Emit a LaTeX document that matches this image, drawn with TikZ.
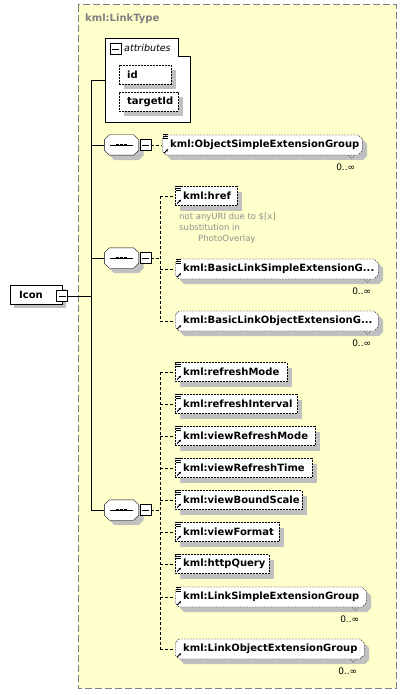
\documentclass[tikz,border=0pt]{standalone}
\usepackage{fontspec}
\setmainfont{DejaVu Sans}
\usetikzlibrary{calc,positioning,shadows,shapes.misc,arrows.meta}
\definecolor{bgyellow}{HTML}{FFFFCC}
\definecolor{framegray}{HTML}{808080}
\definecolor{shadowgray}{HTML}{C0C0C0}
\definecolor{notegray}{HTML}{909090}
\newcommand\elide{...}
% octagon of a sequence compositor, shifted by #2
\newcommand\octpath[2]{($(#1.north west)+(5,0)+(#2)$) -- ($(#1.north east)+(-5,0)+(#2)$)
  -- ($(#1.north east)+(0,5)+(#2)$) -- ($(#1.south east)+(0,-5)+(#2)$)
  -- ($(#1.south east)+(-5,0)+(#2)$) -- ($(#1.south west)+(5,0)+(#2)$)
  -- ($(#1.south west)+(0,-5)+(#2)$) -- ($(#1.north west)+(0,5)+(#2)$) -- cycle}
\tikzset{
  typeframe/.style={draw=framegray,fill=bgyellow,line width=1pt,dash pattern=on 7pt off 3pt},
  typetitle/.style={anchor=west,text=framegray,inner sep=0pt,font=\bfseries\fontsize{10}{12}\selectfont},
  boxshadow/.style={drop shadow={shadow xshift=5pt,shadow yshift=-5pt,fill=shadowgray,opacity=1}},
  elem/.style={draw,fill=white,dash pattern=on 2pt off 1pt,anchor=west,minimum height=19pt,
    inner xsep=0pt,inner ysep=0pt,font=\bfseries\fontsize{10}{12}\selectfont,boxshadow},
  multi/.style={elem,chamfered rectangle,chamfered rectangle xsep=2pt,chamfered rectangle ysep=2pt,minimum height=20pt},
  rootbox/.style={draw,fill=white,anchor=west,minimum height=19pt,inner sep=0pt,font=\bfseries\fontsize{10}{12}\selectfont,
    drop shadow={shadow xshift=4pt,shadow yshift=-4pt,fill=shadowgray,opacity=1}},
  minusbox/.style={draw,fill=white,minimum size=11pt,inner sep=0pt,
    path picture={\draw ([xshift=2pt]path picture bounding box.west) -- ([xshift=-2pt]path picture bounding box.east);}},
  seqbox/.style={minimum width=34pt,minimum height=20pt,inner sep=0pt},
  branch/.style={dash pattern=on 3pt off 2pt},
  mult/.style={inner sep=0pt,font=\fontsize{9}{10}\selectfont},
  note/.style={anchor=north west,align=left,inner sep=0pt,text=notegray,font=\fontsize{8.5}{11}\selectfont},
}
\begin{document}
\begin{tikzpicture}[x=1pt,y=-1pt]
  \useasboundingbox (0,0) rectangle (407,695);
  % complex type frame
  \draw[typeframe] (78,5) rectangle (396,688);
  \node[typetitle] (ltype) at (85,19) {kml:LinkType};

  % root element
  \node[rootbox] (icon) at (10,294.5) {\makebox[52pt][l]{\hspace*{9pt}Icon}};
  \node[minusbox] (iconm) at (62,296) {};

  % attributes
  \draw[fill=white] (105,38) -- (178,38) -- (178,56) -- (190,56) -- (190,122) -- (105,122) -- cycle;
  \node[minusbox] (attrm) at (115.5,49) {};
  \node[anchor=west,inner sep=0pt,font=\itshape\fontsize{9.5}{11}\selectfont] (attrt) at (124,48) {attributes};
  \node[elem,minimum width=52pt] (id) at (119,74.5) {\makebox[46pt][l]{\hspace*{5pt}id}};
  \node[elem,minimum width=59pt] (tid) at (119,101.5) {\makebox[53pt][l]{\hspace*{5pt}targetId}};

  % trunk
  \coordinate (t0) at (91,80);
  \coordinate (attrw) at (105,80);
  \coordinate (tm) at (91,296);
  \draw (t0) -- (attrw);
  \draw (iconm.east) -- (tm);
  \foreach \s/\yy in {1/145,2/258,3/510}{%
    \coordinate (t\s) at (91,\yy);
    \node[seqbox] (seq\s) at (121.5,\yy) {};
    \fill[shadowgray] \octpath{seq\s}{5,5};
    \draw[fill=white] \octpath{seq\s}{0,0};
    \node[minusbox,anchor=west] (seqm\s) at ($(seq\s.east)+(1,0)$) {};
    \draw (t\s) -- (seq\s.west);
    \draw ($(seq\s.west)+(6,0)$) -- ($(seq\s.east)+(-6,0)$);
    \foreach \d in {-4,0,4}
      \fill ($(seq\s.center)+(\d,0)$) +(-1.3,-1.3) rectangle +(1.3,1.3);
  }
  \draw (t0) -- (t3);

  % elements
  \foreach \nm/\xx/\yy/\ww/\kind/\txt in {%
    osext/162/145/200/multi/kml:ObjectSimpleExtensionGroup,
    href/175/196/62/elem/kml:href,
    blsext/175/269/203/multi/kml:BasicLinkSimpleExtensionG\elide,
    bloext/175/321/203/multi/kml:BasicLinkObjectExtensionG\elide,
    rmode/175/372/112/elem/kml:refreshMode,
    rintv/175/404/122/elem/kml:refreshInterval,
    vrmode/175/436/140/elem/kml:viewRefreshMode,
    vrtime/175/468/137/elem/kml:viewRefreshTime,
    vbscale/175/500/127/elem/kml:viewBoundScale,
    vformat/175/532/104/elem/kml:viewFormat,
    hquery/175/564/94/elem/kml:httpQuery,
    lsext/175/597/191/multi/kml:LinkSimpleExtensionGroup,
    loext/175/649/189/multi/kml:LinkObjectExtensionGroup}{%
    \node[\kind,minimum width=\ww pt] (\nm) at (\xx,\yy) {\makebox[\dimexpr\ww pt-6pt\relax][l]{\hspace*{5pt}\txt}};
  }
  % simple type marks and reference arrows
  \foreach \nm in {osext,href,blsext,rmode,rintv,vrmode,vrtime,vbscale,vformat,hquery,lsext}
    \foreach \k in {0,2,4}
      \draw[line width=.6pt] ($(\nm.west |- \nm.north)+(1,\k)$) -- ++(5,0);
  \foreach \nm in {osext,href,blsext,bloext,rmode,rintv,vrmode,vrtime,vbscale,vformat,hquery,lsext,loext}
    \draw[line width=.8pt,-{Stealth[length=2.5pt,width=2.5pt]}] ($(\nm.west |- \nm.south)+(2,-2)$) -- ++(4,-4);
  % occurrences
  \foreach \nm in {osext,blsext,bloext,lsext,loext}{%
    \draw[densely dotted] ($(\nm.east |- \nm.south)+(-14,0)$) -- ++(3,3) -- ++(3,-3);
    \node[mult,anchor=north east] (m-\nm) at ($(\nm.east |- \nm.south)+(-7,8)$) {0..∞};
  }

  % connectors
  \draw[branch] (seqm1.east) -- (osext.west);
  \coordinate (b2) at (160,258);
  \draw[branch] (seqm2.east) -- (b2);
  \draw[branch] (b2 |- href.west) -- (b2 |- bloext.west);
  \foreach \nm in {href,blsext,bloext}
    \draw[branch] (b2 |- \nm.west) -- (\nm.west);
  \coordinate (b3) at (160,510);
  \draw[branch] (seqm3.east) -- (b3);
  \draw[branch] (b3 |- rmode.west) -- (b3 |- loext.west);
  \foreach \nm in {rmode,rintv,vrmode,vrtime,vbscale,vformat,hquery,lsext,loext}
    \draw[branch] (b3 |- \nm.west) -- (\nm.west);

  % annotation
  \node[note] (hnote) at (179,213) {not anyURI due to \$[x]\\substitution in\\\hspace*{19pt}PhotoOverlay};
\end{tikzpicture}
\end{document}
